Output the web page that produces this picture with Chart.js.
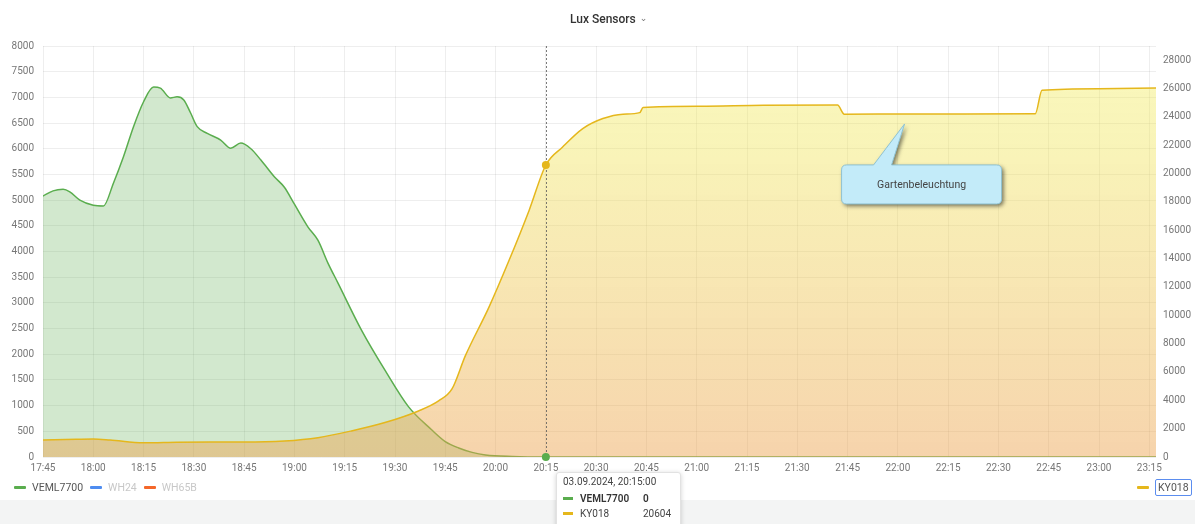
<!DOCTYPE html>
<html><head><meta charset="utf-8">
<script src="https://cdn.jsdelivr.net/npm/chart.js@4.4.1/dist/chart.umd.min.js"></script>
<style>
html,body{margin:0;padding:0;background:#fff;font-family:Roboto,"Liberation Sans",sans-serif;}
#wrap{position:relative;width:1195px;height:524px;overflow:hidden;background:#fff;}
#band{position:absolute;left:0;top:500px;width:1195px;height:24px;background:#f3f4f4;}
#title{position:absolute;top:12px;left:570px;font-size:12px;color:#333;font-weight:500;white-space:nowrap;}
#title .chev{font-family:"DejaVu Sans",sans-serif;font-size:9px;color:#777;margin-left:4px;position:relative;top:-2px;}
canvas{position:absolute;left:0;top:0;}
.leg{position:absolute;top:479px;height:16px;font-size:10.5px;color:#555;display:flex;align-items:center;white-space:nowrap;}
.leg .it{display:flex;align-items:center;margin-right:7px;}
.leg .dash{width:12px;height:3px;border-radius:1px;margin-right:6px;}
.leg .hid{color:#c8c8c8;}
#legR .lab{border:1.5px solid #5b8def;border-radius:2px;padding:1px 2px;}
#tip{position:absolute;left:556px;top:472px;width:123px;height:62px;background:#fff;border:1px solid #e2e2e2;border-radius:3px;box-shadow:0 1px 5px rgba(0,0,0,0.18);font-size:10px;color:#444;}
#tip .hd{position:absolute;left:6px;top:3px;}
#tip .row{position:absolute;left:6px;height:14px;display:flex;align-items:center;}
#tip .row .d{width:10px;height:3px;margin-right:7px;}
#tip .row .n{width:63px;}
</style>
</head><body>
<div id="wrap">
  <div id="band"></div>
  <canvas id="c" width="1195" height="480"></canvas>
  <div id="title">Lux Sensors<span class="chev">&#8964;</span></div>
  <div class="leg" id="legL" style="left:14px;"></div>
  <div class="leg" id="legR" style="left:1137px;"></div>
  <div id="tip"></div>
</div>
<script>
// ---- data ----
const seriesNames = ["VEML7700", "WH24", "WH65B", "KY018"];
const seriesColors = ["#5aad4e", "#4e8cf0", "#f4672a", "#e5b71c"];
const hiddenSeries = [false, true, true, false];

const vemlTimes = ["17:45","17:48","17:51","17:53","17:56","18:00","18:03","18:06","18:09","18:12","18:15","18:18","18:20","18:23","18:25","18:27","18:29","18:31","18:34","18:38","18:41","18:44","18:47","18:50","18:54","18:57","19:00","19:04","19:07","19:10","19:13","19:20","19:27","19:34","19:41","19:45","19:49","19:53","19:57","20:05","20:15","20:30","23:17"];
const vemlValues = [5080,5180,5210,5160,5000,4900,4885,5330,5845,6430,6915,7200,7180,6990,7010,6950,6700,6430,6300,6170,6010,6110,6000,5780,5455,5250,4920,4480,4220,3775,3385,2470,1690,980,525,300,175,90,40,10,0,0,0];

const kyTimes = ["17:45","17:55","18:00","18:05","18:15","18:25","18:35","18:45","18:57","19:07","19:17","19:27","19:37","19:43","19:47","19:51","19:58","20:04","20:10","20:15","20:20","20:26","20:32","20:38","20:43","20:44","21:01","21:20","21:42","21:44","22:00","22:20","22:41","22:43","23:00","23:17"];
const kyValues = [1200,1250,1270,1200,1000,1040,1060,1050,1130,1365,1840,2430,3250,3960,4800,7150,10560,13860,17400,20604,21870,23170,23880,24190,24300,24660,24750,24820,24830,24190,24200,24210,24220,25880,25990,26030];

const xTickLabels = ["17:45","18:00","18:15","18:30","18:45","19:00","19:15","19:30","19:45","20:00","20:15","20:30","20:45","21:00","21:15","21:30","21:45","22:00","22:15","22:30","22:45","23:00","23:15"];
const leftTicks = [0,500,1000,1500,2000,2500,3000,3500,4000,4500,5000,5500,6000,6500,7000,7500,8000];
const rightTicks = [0,2000,4000,6000,8000,10000,12000,14000,16000,18000,20000,22000,24000,26000,28000];

const hoverTime = "20:15";
const hoverDate = "03.09.2024";
const noteText = "Gartenbeleuchtung";
const noteTime = "22:02";
const noteValue = 23500;

// ---- helpers ----
const toMin = s => { const [h,m] = s.split(":").map(Number); return h*60+m; };
const fmt = v => { const h = Math.floor(v/60), m = v%60; return String(h).padStart(2,"0")+":"+String(m).padStart(2,"0"); };
const pts = (ts, vs) => ts.map((t,i)=>({x:toMin(t), y:vs[i]}));
const xMin = toMin(vemlTimes[0]);
const xMax = toMin(vemlTimes[vemlTimes.length-1]);

function yellowGradient(ctx){
  const ca = ctx.chart.chartArea;
  if(!ca) return "rgba(240,200,80,0.4)";
  const g = ctx.chart.ctx.createLinearGradient(0, ca.top, 0, ca.bottom);
  g.addColorStop(0, "rgba(240,236,80,0.38)");
  g.addColorStop(0.25, "rgba(240,228,86,0.42)");
  g.addColorStop(1, "rgba(236,160,74,0.46)");
  return g;
}

const overlayPlugin = {
  id: "overlay",
  afterDatasetsDraw(chart){
    const {ctx, chartArea:ca, scales} = chart;
    const x = scales.x.getPixelForValue(toMin(hoverTime));
    ctx.save();
    ctx.strokeStyle = "rgba(90,90,90,0.8)";
    ctx.lineWidth = 1;
    ctx.setLineDash([2,2]);
    ctx.beginPath(); ctx.moveTo(Math.round(x)+0.5, ca.top); ctx.lineTo(Math.round(x)+0.5, ca.bottom); ctx.stroke();
    ctx.setLineDash([]);
    const gi = vemlTimes.indexOf(hoverTime), ki = kyTimes.indexOf(hoverTime);
    ctx.fillStyle = seriesColors[0];
    ctx.beginPath(); ctx.arc(x, scales.y.getPixelForValue(vemlValues[gi]), 4, 0, Math.PI*2); ctx.fill();
    ctx.fillStyle = seriesColors[3];
    ctx.beginPath(); ctx.arc(x, scales.y1.getPixelForValue(kyValues[ki]), 4, 0, Math.PI*2); ctx.fill();

    // callout annotation
    const tx = scales.x.getPixelForValue(toMin(noteTime));
    const ty = scales.y1.getPixelForValue(noteValue);
    const bx = tx - 63, by = ty + 41, bw = 160, bh = 39, r = 5;
    const p1 = tx - 31, p2 = tx - 13;
    ctx.beginPath();
    ctx.moveTo(bx + r, by);
    ctx.lineTo(p1, by);
    ctx.lineTo(tx, ty);
    ctx.lineTo(p2, by);
    ctx.lineTo(bx + bw - r, by);
    ctx.quadraticCurveTo(bx + bw, by, bx + bw, by + r);
    ctx.lineTo(bx + bw, by + bh - r);
    ctx.quadraticCurveTo(bx + bw, by + bh, bx + bw - r, by + bh);
    ctx.lineTo(bx + r, by + bh);
    ctx.quadraticCurveTo(bx, by + bh, bx, by + bh - r);
    ctx.lineTo(bx, by + r);
    ctx.quadraticCurveTo(bx, by, bx + r, by);
    ctx.closePath();
    ctx.shadowColor = "rgba(0,0,0,0.55)";
    ctx.shadowBlur = 4; ctx.shadowOffsetX = 2; ctx.shadowOffsetY = 2;
    ctx.fillStyle = "#c3ebf9";
    ctx.fill();
    ctx.shadowColor = "transparent";
    ctx.strokeStyle = "#8fc3d3"; ctx.lineWidth = 1;
    ctx.stroke();
    ctx.fillStyle = "#444";
    ctx.font = "10.5px Roboto, 'Liberation Sans', sans-serif";
    ctx.textAlign = "center"; ctx.textBaseline = "middle";
    ctx.fillText(noteText, bx + bw/2, by + bh/2 + 1);
    ctx.restore();
  }
};

const grid = {color:"rgba(0,0,0,0.065)", drawTicks:false};
const tickFont = {family:"Roboto, 'Liberation Sans', sans-serif", size:10};

const chart = new Chart(document.getElementById("c"), {
  type: "line",
  data: {
    datasets: [
      {label: seriesNames[0], data: pts(vemlTimes, vemlValues), yAxisID:"y", borderColor: seriesColors[0], backgroundColor:"rgba(92,173,78,0.28)", fill:"origin", borderWidth:1.5, pointRadius:0, tension:0.3, cubicInterpolationMode:"monotone", order:1},
      {label: seriesNames[1], data: [], yAxisID:"y", borderColor: seriesColors[1], hidden:true, pointRadius:0},
      {label: seriesNames[2], data: [], yAxisID:"y", borderColor: seriesColors[2], hidden:true, pointRadius:0},
      {label: seriesNames[3], data: pts(kyTimes, kyValues), yAxisID:"y1", borderColor: seriesColors[3], backgroundColor: yellowGradient, fill:"origin", borderWidth:1.5, pointRadius:0, tension:0.3, cubicInterpolationMode:"monotone", order:0}
    ]
  },
  options: {
    responsive:false, animation:false, maintainAspectRatio:false,
    layout:{padding:{top:46, left:0, right:0, bottom:0}},
    plugins:{legend:{display:false}, tooltip:{enabled:false}, title:{display:false}},
    scales:{
      x:{type:"linear", min:xMin, max:xMax, grid:grid, border:{display:false},
         afterBuildTicks: s => { s.ticks = xTickLabels.map(t=>({value:toMin(t)})); },
         afterFit: s => { s.height = 23; },
         ticks:{callback: v => fmt(v), font:tickFont, color:"#777", padding:5, maxRotation:0, autoSkip:false}},
      y:{position:"left", min:0, max:8000, grid:grid, border:{display:false},
         afterBuildTicks: s => { s.ticks = leftTicks.map(v=>({value:v})); },
         afterFit: s => { s.width = 43; },
         ticks:{callback: v => String(v), font:tickFont, color:"#777", padding:9}},
      y1:{position:"right", min:0, max:29000, grid:{drawOnChartArea:false, drawTicks:false}, border:{display:false},
         afterBuildTicks: s => { s.ticks = rightTicks.map(v=>({value:v})); },
         afterFit: s => { s.width = 39; },
         ticks:{callback: v => String(v), font:tickFont, color:"#777", padding:7}}
    }
  },
  plugins:[overlayPlugin]
});

// ---- HTML legends ----
const legL = document.getElementById("legL");
[0,1,2].forEach(i=>{
  const it = document.createElement("div"); it.className="it";
  it.innerHTML = '<span class="dash" style="background:'+seriesColors[i]+'"></span><span class="'+(hiddenSeries[i]?'hid':'')+'">'+seriesNames[i]+'</span>';
  legL.appendChild(it);
});
const legR = document.getElementById("legR");
legR.innerHTML = '<span class="dash" style="background:'+seriesColors[3]+'"></span><span class="lab">'+seriesNames[3]+'</span>';

// ---- tooltip ----
const tip = document.getElementById("tip");
const gv = vemlValues[vemlTimes.indexOf(hoverTime)];
const kv = kyValues[kyTimes.indexOf(hoverTime)];
tip.innerHTML = '<div class="hd">'+hoverDate+', '+hoverTime+':00</div>'+
  '<div class="row" style="top:18px;font-weight:600;color:#333"><span class="d" style="background:'+seriesColors[0]+'"></span><span class="n">'+seriesNames[0]+'</span><span>'+gv+'</span></div>'+
  '<div class="row" style="top:33px;"><span class="d" style="background:'+seriesColors[3]+'"></span><span class="n">'+seriesNames[3]+'</span><span>'+kv+'</span></div>';
</script>
</body></html>
